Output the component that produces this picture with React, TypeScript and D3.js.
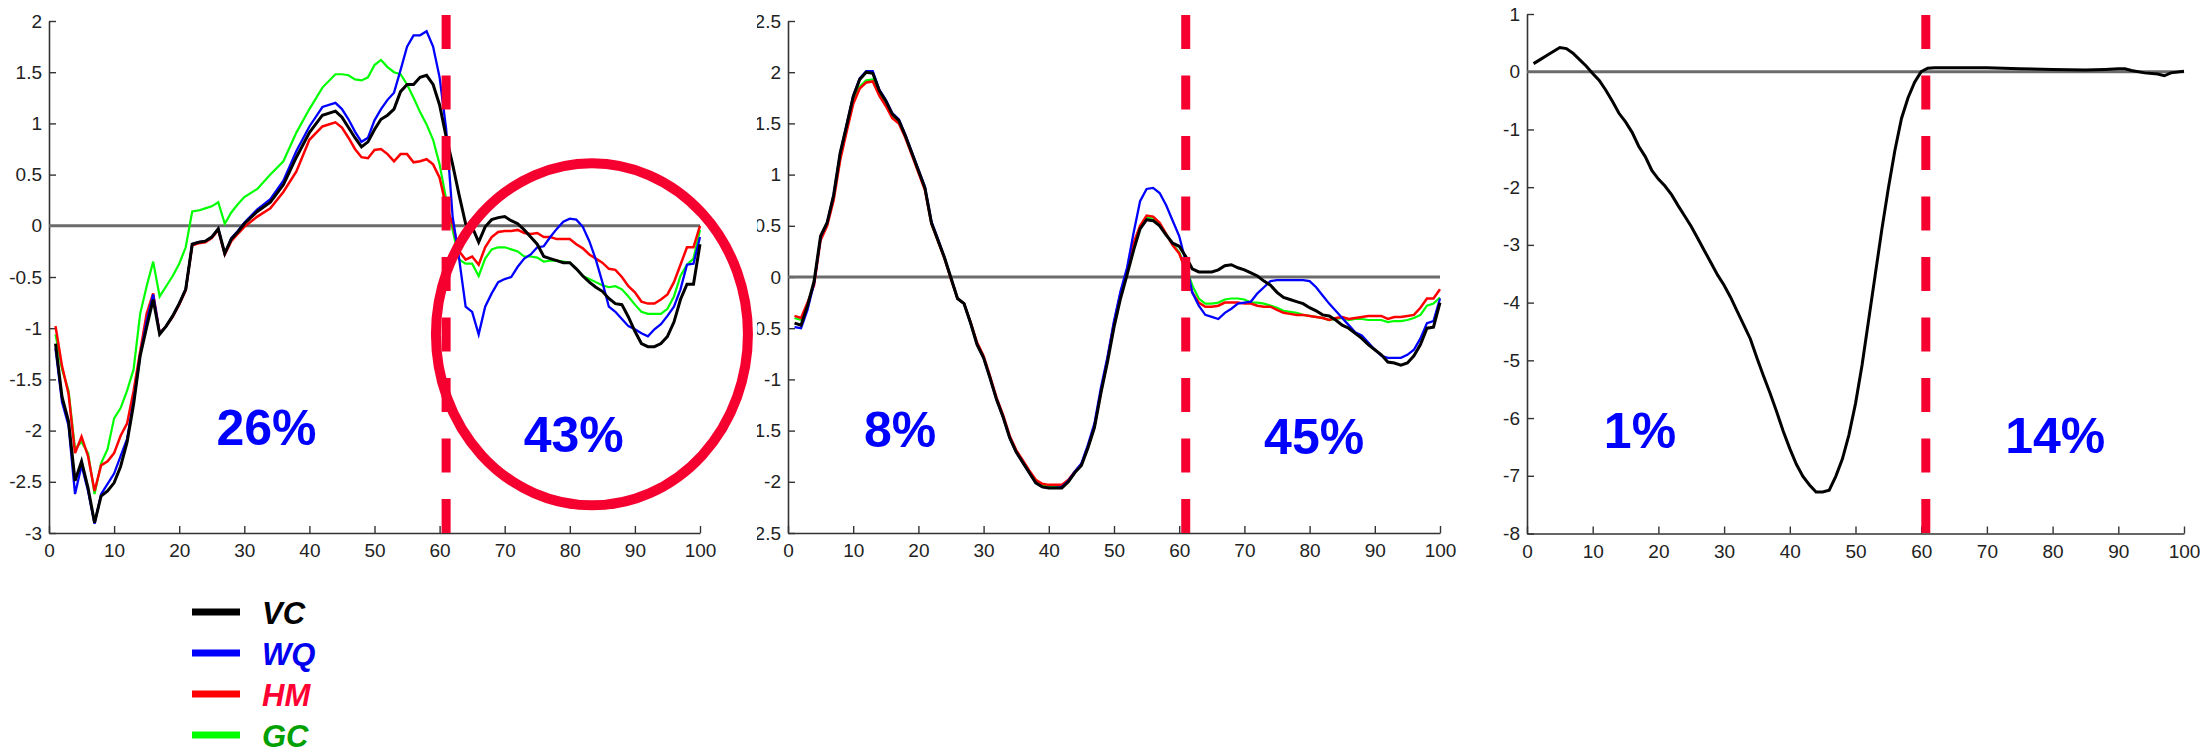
import { useRef, useEffect } from 'react';
import * as d3 from 'd3';

const WIDTH = 2202;
const HEIGHT = 755;

const seriesNames = ['VC', 'WQ', 'HM', 'GC'];
const lineColors: Record<string, string> = { VC: '#000000', WQ: '#0000ff', HM: '#ff0000', GC: '#00ff00' };
const legendColors: Record<string, string> = { VC: '#000000', WQ: '#0000f0', HM: '#ff0033', GC: '#00a000' };
const lineWidths: Record<string, number> = { VC: 3, WQ: 2.3, HM: 2.5, GC: 2.2 };

const xTicks = [0, 10, 20, 30, 40, 50, 60, 70, 80, 90, 100];

// ---- panel 1 ----
const p1Cycle = [
  1, 2, 3, 4, 5, 6, 7, 8, 9, 10,
  11, 12, 13, 14, 15, 16, 17, 18, 19, 20,
  21, 22, 23, 24, 25, 26, 27, 28, 29, 30,
  32, 34, 36, 38, 40, 42,
  44, 45, 46, 47, 48, 49, 50,
  51, 52, 53, 54, 55, 56, 57, 58, 59, 60,
  61, 62, 63, 64, 65, 66, 67, 68, 69, 70,
  71, 72, 73, 74, 75, 76, 77, 78, 79, 80,
  81, 82, 83, 84, 85, 86, 87, 88, 89, 90,
  91, 92, 93, 94, 95, 96, 97, 98, 99, 100,
];
const p1VC = [
  -1.15, -1.67, -1.91, -2.49, -2.30, -2.56, -2.90, -2.64, -2.59, -2.51,
  -2.35, -2.11, -1.74, -1.27, -0.99, -0.72, -1.06, -0.98, -0.88, -0.76,
  -0.62, -0.18, -0.16, -0.15, -0.11, -0.03, -0.27, -0.13, -0.06, 0.02,
  0.14, 0.23, 0.40, 0.67, 0.91, 1.08,
  1.12, 1.06, 0.96, 0.86, 0.77, 0.82, 0.94,
  1.04, 1.08, 1.14, 1.31, 1.38, 1.38, 1.45, 1.47, 1.38, 1.18,
  0.87, 0.60, 0.30, 0.02, -0.01, -0.16, -0.01, 0.06, 0.08, 0.09,
  0.05, 0.02, -0.04, -0.11, -0.18, -0.30, -0.32, -0.34, -0.36, -0.36,
  -0.42, -0.49, -0.55, -0.60, -0.64, -0.71, -0.76, -0.77, -0.89, -1.03,
  -1.15, -1.18, -1.18, -1.15, -1.08, -0.94, -0.72, -0.57, -0.57, -0.18,
];
const p1WQ = [
  -1.20, -1.72, -1.95, -2.62, -2.34, -2.59, -2.91, -2.62, -2.52, -2.42,
  -2.25, -2.08, -1.71, -1.27, -0.93, -0.67, -1.05, -0.98, -0.88, -0.76,
  -0.62, -0.18, -0.16, -0.15, -0.11, -0.03, -0.27, -0.12, -0.05, 0.03,
  0.16, 0.26, 0.44, 0.73, 0.97, 1.16,
  1.20, 1.14, 1.04, 0.92, 0.82, 0.86, 1.03,
  1.14, 1.23, 1.30, 1.52, 1.75, 1.86, 1.86, 1.90, 1.75, 1.45,
  0.95, 0.09, -0.32, -0.79, -0.84, -1.06, -0.79, -0.66, -0.55, -0.52,
  -0.50, -0.40, -0.32, -0.28, -0.21, -0.20, -0.11, -0.03, 0.04, 0.07,
  0.06, -0.01, -0.15, -0.33, -0.55, -0.79, -0.84, -0.91, -0.98, -1.01,
  -1.05, -1.08, -1.01, -0.96, -0.88, -0.79, -0.62, -0.38, -0.37, -0.11,
];
const p1HM = [
  -0.98, -1.37, -1.64, -2.22, -2.06, -2.25, -2.59, -2.34, -2.30, -2.22,
  -2.05, -1.93, -1.61, -1.23, -0.86, -0.66, -1.05, -0.98, -0.89, -0.77,
  -0.63, -0.19, -0.17, -0.16, -0.12, -0.04, -0.28, -0.15, -0.08, -0.01,
  0.09, 0.17, 0.33, 0.53, 0.84, 0.97,
  1.01, 0.96, 0.86, 0.75, 0.67, 0.66, 0.74,
  0.75, 0.70, 0.63, 0.70, 0.70, 0.62, 0.63, 0.65, 0.60, 0.47,
  0.19, 0.02, -0.25, -0.33, -0.30, -0.38, -0.21, -0.11, -0.06, -0.05,
  -0.05, -0.04, -0.07, -0.08, -0.07, -0.11, -0.11, -0.13, -0.13, -0.13,
  -0.18, -0.22, -0.28, -0.32, -0.36, -0.42, -0.43, -0.50, -0.59, -0.65,
  -0.74, -0.76, -0.76, -0.72, -0.67, -0.55, -0.38, -0.21, -0.21, 0.00,
];
const p1GC = [
  -1.06, -1.40, -1.61, -2.18, -2.11, -2.22, -2.62, -2.32, -2.18, -1.88,
  -1.78, -1.61, -1.40, -0.86, -0.59, -0.35, -0.69, -0.59, -0.49, -0.37,
  -0.21, 0.14, 0.15, 0.17, 0.19, 0.23, 0.02, 0.13, 0.21, 0.28,
  0.36, 0.50, 0.63, 0.91, 1.14, 1.35,
  1.48, 1.48, 1.47, 1.43, 1.42, 1.45, 1.57,
  1.62, 1.55, 1.50, 1.48, 1.38, 1.25, 1.11, 0.99, 0.84, 0.60,
  0.26, -0.04, -0.33, -0.37, -0.37, -0.49, -0.32, -0.23, -0.21, -0.21,
  -0.23, -0.25, -0.30, -0.30, -0.31, -0.35, -0.34, -0.34, -0.35, -0.36,
  -0.42, -0.49, -0.52, -0.55, -0.58, -0.60, -0.59, -0.62, -0.69, -0.77,
  -0.84, -0.86, -0.86, -0.86, -0.81, -0.69, -0.49, -0.38, -0.32, -0.04,
];
const p1Ticks = [2, 1.5, 1, 0.5, 0, -0.5, -1, -1.5, -2, -2.5, -3];
const p1Labels = [
  { text: '26%', x: 33.4, y: -2.14 },
  { text: '43%', x: 80.6, y: -2.21 },
];

// ---- panel 2 ----
const p2Cycle = d3.range(1, 101);
const p2VC = [
  -0.45, -0.47, -0.28, -0.04, 0.40, 0.53, 0.80, 1.21, 1.48, 1.76,
  1.93, 2.00, 1.99, 1.82, 1.72, 1.59, 1.53, 1.38, 1.21, 1.04,
  0.87, 0.53, 0.36, 0.19, -0.01, -0.21, -0.26, -0.45, -0.66, -0.79,
  -0.99, -1.20, -1.37, -1.57, -1.71, -1.81, -1.91, -2.01, -2.05, -2.06,
  -2.06, -2.06, -2.00, -1.91, -1.84, -1.67, -1.47, -1.13, -0.83, -0.49,
  -0.21, 0.02, 0.26, 0.47, 0.56, 0.55, 0.50, 0.41, 0.33, 0.30,
  0.20, 0.08, 0.05, 0.05, 0.05, 0.07, 0.11, 0.12, 0.09, 0.07,
  0.04, 0.01, -0.04, -0.08, -0.15, -0.20, -0.22, -0.24, -0.26, -0.30,
  -0.33, -0.37, -0.38, -0.42, -0.47, -0.50, -0.55, -0.60, -0.66, -0.71,
  -0.76, -0.83, -0.84, -0.86, -0.84, -0.77, -0.66, -0.50, -0.49, -0.25,
];
const p2WQ = [
  -0.49, -0.50, -0.32, -0.06, 0.39, 0.53, 0.80, 1.21, 1.49, 1.77,
  1.94, 2.01, 2.01, 1.83, 1.73, 1.60, 1.54, 1.39, 1.22, 1.05,
  0.88, 0.54, 0.37, 0.19, -0.01, -0.21, -0.26, -0.45, -0.66, -0.79,
  -0.99, -1.20, -1.37, -1.57, -1.71, -1.81, -1.91, -2.01, -2.05, -2.06,
  -2.06, -2.05, -1.99, -1.90, -1.82, -1.64, -1.43, -1.08, -0.78, -0.43,
  -0.14, 0.09, 0.43, 0.74, 0.86, 0.87, 0.82, 0.70, 0.55, 0.40,
  0.15, -0.15, -0.28, -0.37, -0.39, -0.41, -0.35, -0.31, -0.26, -0.25,
  -0.24, -0.16, -0.10, -0.04, -0.03, -0.03, -0.03, -0.03, -0.03, -0.04,
  -0.10, -0.18, -0.26, -0.33, -0.40, -0.47, -0.54, -0.57, -0.64, -0.71,
  -0.77, -0.79, -0.79, -0.79, -0.76, -0.71, -0.60, -0.45, -0.43, -0.21,
];
const p2HM = [
  -0.38, -0.40, -0.25, -0.08, 0.36, 0.50, 0.75, 1.14, 1.42, 1.69,
  1.84, 1.90, 1.91, 1.77, 1.67, 1.55, 1.50, 1.36, 1.19, 1.02,
  0.85, 0.52, 0.35, 0.18, -0.02, -0.21, -0.26, -0.44, -0.64, -0.77,
  -0.97, -1.18, -1.35, -1.55, -1.69, -1.79, -1.89, -1.98, -2.02, -2.03,
  -2.03, -2.03, -1.98, -1.90, -1.83, -1.66, -1.46, -1.12, -0.80, -0.45,
  -0.16, 0.06, 0.33, 0.50, 0.60, 0.59, 0.53, 0.42, 0.31, 0.23,
  0.06, -0.15, -0.25, -0.29, -0.29, -0.28, -0.25, -0.25, -0.25, -0.26,
  -0.26, -0.28, -0.29, -0.29, -0.32, -0.35, -0.36, -0.37, -0.37, -0.38,
  -0.39, -0.40, -0.42, -0.40, -0.39, -0.41, -0.40, -0.39, -0.38, -0.38,
  -0.38, -0.41, -0.39, -0.39, -0.38, -0.37, -0.30, -0.21, -0.21, -0.12,
];
const p2GC = [
  -0.40, -0.42, -0.26, -0.06, 0.38, 0.51, 0.77, 1.16, 1.44, 1.71,
  1.86, 1.92, 1.93, 1.78, 1.68, 1.56, 1.51, 1.37, 1.20, 1.03,
  0.86, 0.52, 0.35, 0.18, -0.02, -0.21, -0.26, -0.44, -0.65, -0.78,
  -0.98, -1.19, -1.36, -1.56, -1.70, -1.80, -1.90, -1.99, -2.03, -2.04,
  -2.04, -2.04, -1.99, -1.90, -1.83, -1.66, -1.46, -1.12, -0.81, -0.46,
  -0.17, 0.05, 0.31, 0.49, 0.58, 0.58, 0.52, 0.42, 0.32, 0.24,
  0.10, -0.08, -0.21, -0.26, -0.26, -0.25, -0.22, -0.21, -0.21, -0.22,
  -0.25, -0.25, -0.26, -0.28, -0.30, -0.33, -0.34, -0.35, -0.37, -0.38,
  -0.39, -0.40, -0.42, -0.41, -0.40, -0.42, -0.41, -0.41, -0.42, -0.42,
  -0.42, -0.44, -0.43, -0.43, -0.42, -0.40, -0.37, -0.28, -0.26, -0.20,
];
const p2Ticks = [2.5, 2, 1.5, 1, 0.5, 0, -0.5, -1, -1.5, -2, -2.5];
const p2Labels = [
  { text: '8%', x: 17.2, y: -1.66 },
  { text: '45%', x: 80.7, y: -1.73 },
];

// ---- panel 3 ----
const p3Cycle = [
  1, 2, 3, 4, 5, 6, 7, 8, 9, 10,
  11, 12, 13, 14, 15, 16, 17, 18, 19, 20,
  21, 22, 23, 24, 25, 26, 27, 28, 29, 30,
  31, 32, 33, 34, 35, 36, 37, 38, 39, 40,
  41, 42, 43, 44, 45, 46, 47, 48, 49, 50,
  51, 52, 53, 54, 55, 56, 57, 58, 59, 60,
  61, 62,
  65, 70, 75, 80, 85, 88, 90, 91, 92, 94, 96, 97, 98, 100,
];
const p3VC = [
  0.14, 0.21, 0.28, 0.35, 0.42, 0.40, 0.32, 0.21, 0.10, -0.03,
  -0.15, -0.32, -0.51, -0.72, -0.87, -1.05, -1.29, -1.47, -1.71, -1.86,
  -1.98, -2.13, -2.32, -2.50, -2.68, -2.89, -3.10, -3.31, -3.52, -3.70,
  -3.91, -4.15, -4.39, -4.63, -4.96, -5.27, -5.57, -5.89, -6.23, -6.53,
  -6.80, -7.01, -7.16, -7.28, -7.28, -7.25, -7.01, -6.71, -6.29, -5.75,
  -5.08, -4.30, -3.52, -2.74, -2.02, -1.36, -0.81, -0.45, -0.18, 0.00,
  0.06, 0.07,
  0.07, 0.07, 0.05, 0.04, 0.03, 0.04, 0.05, 0.05, 0.02, -0.02, -0.04, -0.07, -0.02, 0.01,
];
const p3Ticks = [1, 0, -1, -2, -3, -4, -5, -6, -7, -8];
const p3Labels = [
  { text: '1%', x: 17.2, y: -6.52 },
  { text: '14%', x: 80.4, y: -6.61 },
];

const panels = [
  {
    cycle: p1Cycle,
    series: [{ key: 'GC', values: p1GC }, { key: 'HM', values: p1HM }, { key: 'WQ', values: p1WQ }, { key: 'VC', values: p1VC }],
    yTicks: p1Ticks, split: 61, labels: p1Labels,
    box: { left: 49, right: 700, top: 21, bottom: 533 }, clipLeft: 0,
  },
  {
    cycle: p2Cycle,
    series: [{ key: 'GC', values: p2GC }, { key: 'HM', values: p2HM }, { key: 'WQ', values: p2WQ }, { key: 'VC', values: p2VC }],
    yTicks: p2Ticks, split: 61, labels: p2Labels,
    box: { left: 788, right: 1440, top: 21, bottom: 533 }, clipLeft: 757,
  },
  {
    cycle: p3Cycle,
    series: [{ key: 'VC', values: p3VC }],
    yTicks: p3Ticks, split: 60.7, labels: p3Labels,
    box: { left: 1527, right: 2184, top: 14, bottom: 533.5 }, clipLeft: 1500,
  },
];

// highlighted region on the first panel (center in data units)
const highlight = { cx: 83.4, cy: -1.06, rx: 156, ry: 171 };

const RED = '#f5002f';
const TICK_FONT = '"Liberation Sans Narrow", Arial, "Liberation Sans", sans-serif';
const LABEL_FONT = 'Arial, "Liberation Sans", sans-serif';

const App = () => {
  const svgRef = useRef<SVGSVGElement>(null);

  useEffect(() => {
    const svg = d3.select(svgRef.current);
    svg.selectAll('*').remove();
    const defs = svg.append('defs');

    panels.forEach((p, pi) => {
      const x = d3.scaleLinear().domain([0, 100]).range([p.box.left, p.box.right]);
      const y = d3.scaleLinear()
        .domain([d3.min(p.yTicks) as number, d3.max(p.yTicks) as number])
        .range([p.box.bottom, p.box.top]);

      defs.append('clipPath').attr('id', `panel-clip-${pi}`)
        .append('rect')
        .attr('x', p.clipLeft).attr('y', 0)
        .attr('width', WIDTH - p.clipLeft).attr('height', HEIGHT);

      const g = svg.append('g').attr('clip-path', `url(#panel-clip-${pi})`);

      const yAxis = d3.axisLeft(y)
        .tickValues(p.yTicks)
        .tickFormat(d => String(d))
        .tickSizeInner(-7)
        .tickSizeOuter(0)
        .tickPadding(7);
      const xAxis = d3.axisBottom(x)
        .tickValues(xTicks)
        .tickFormat(d => String(d))
        .tickSizeInner(-7)
        .tickSizeOuter(0)
        .tickPadding(11);

      const styleAxis = (a: d3.Selection<SVGGElement, unknown, null, undefined>) => {
        a.attr('font-family', TICK_FONT).attr('font-size', 19);
        a.select('.domain').attr('stroke', '#333').attr('stroke-width', 1.6);
        a.selectAll('.tick line').attr('stroke', '#333').attr('stroke-width', 1.4);
        a.selectAll('.tick text').attr('fill', '#222');
      };

      g.append('g').attr('transform', `translate(${p.box.left},0)`).call(yAxis).call(styleAxis);
      g.append('g').attr('transform', `translate(0,${p.box.bottom})`).call(xAxis).call(styleAxis);

      // zero reference line
      g.append('line')
        .attr('x1', x(0)).attr('x2', x(100))
        .attr('y1', y(0)).attr('y2', y(0))
        .attr('stroke', '#6b6b6b').attr('stroke-width', 3);

      const line = d3.line<[number, number]>()
        .x(d => x(d[0]))
        .y(d => y(d[1]));

      p.series.forEach(s => {
        g.append('path')
          .datum(d3.zip(p.cycle, s.values) as [number, number][])
          .attr('fill', 'none')
          .attr('stroke', lineColors[s.key])
          .attr('stroke-width', lineWidths[s.key])
          .attr('d', line);
      });

      // phase split
      g.append('line')
        .attr('x1', x(p.split)).attr('x2', x(p.split))
        .attr('y1', 15).attr('y2', p.box.bottom)
        .attr('stroke', RED).attr('stroke-width', 9)
        .attr('stroke-dasharray', '34,26.5');

      if (pi === 0) {
        g.append('ellipse')
          .attr('cx', x(highlight.cx)).attr('cy', y(highlight.cy))
          .attr('rx', highlight.rx).attr('ry', highlight.ry)
          .attr('fill', 'none').attr('stroke', RED).attr('stroke-width', 10);
      }

      p.labels.forEach(l => {
        g.append('text')
          .attr('x', x(l.x)).attr('y', y(l.y))
          .attr('text-anchor', 'middle')
          .attr('font-family', LABEL_FONT)
          .attr('font-weight', 'bold')
          .attr('font-size', 50)
          .attr('fill', '#0000ff')
          .text(l.text);
      });
    });

    // legend
    const legend = svg.append('g');
    seriesNames.forEach((name, i) => {
      const cy = 612 + i * 41;
      legend.append('line')
        .attr('x1', 192).attr('x2', 240)
        .attr('y1', cy).attr('y2', cy)
        .attr('stroke', lineColors[name]).attr('stroke-width', 7);
      legend.append('text')
        .attr('x', 262).attr('y', cy + 12)
        .attr('font-family', LABEL_FONT)
        .attr('font-weight', 'bold')
        .attr('font-style', 'italic')
        .attr('font-size', 31)
        .attr('fill', legendColors[name])
        .text(name);
    });
  }, []);

  return (
    <svg
      ref={svgRef}
      width={WIDTH}
      height={HEIGHT}
      style={{ position: 'absolute', left: 0, top: 0, background: '#fff' }}
    />
  );
};

export default App;
